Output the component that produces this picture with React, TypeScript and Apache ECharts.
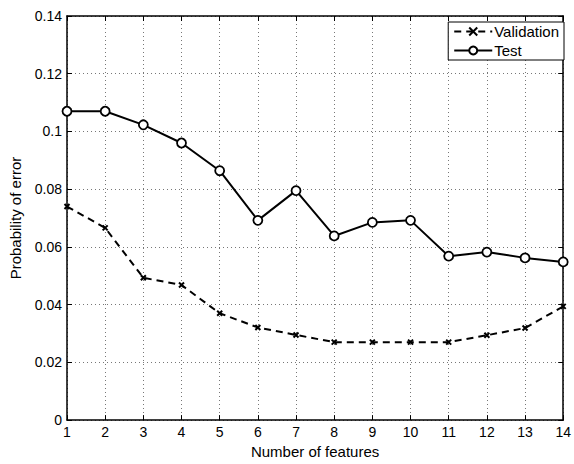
import React, { useEffect, useRef } from "react";
import * as echarts from "echarts";

const features = [1, 2, 3, 4, 5, 6, 7, 8, 9, 10, 11, 12, 13, 14];
const validation = [0.074, 0.0666, 0.0493, 0.0468, 0.037, 0.0321, 0.0295, 0.027, 0.027, 0.027, 0.027, 0.0294, 0.0319, 0.0394];
const test = [0.107, 0.107, 0.1023, 0.096, 0.0864, 0.0692, 0.0795, 0.0638, 0.0685, 0.0692, 0.0568, 0.0582, 0.0562, 0.0548];

const FONT = "Liberation Sans, Arial, Helvetica, sans-serif";

export default function App() {
  const ref = useRef<HTMLDivElement>(null);
  useEffect(() => {
    if (!ref.current) return;
    const chart = echarts.init(ref.current, undefined, { renderer: "svg" });
    const axisLine = { show: true, onZero: false, lineStyle: { color: "#000", width: 1.5 } };
    const tick = { show: true, inside: true, length: 5, lineStyle: { color: "#000", width: 1 } };
    chart.setOption({
      animation: false,
      backgroundColor: "#fff",
      grid: { left: 62, right: 6, top: 16, bottom: 40, containLabel: false },
      legend: {
        orient: "vertical",
        right: 10,
        top: 22,
        borderColor: "#000",
        borderWidth: 1,
        padding: [2, 5, 2, 5],
        itemWidth: 38,
        itemHeight: 10,
        itemGap: 4,
        backgroundColor: "#fff",
        textStyle: { fontFamily: FONT, fontSize: 15, color: "#000", padding: [0, 0, 0, -3] },
        data: ["Validation", "Test"],
      },
      xAxis: [
        {
          type: "value",
          min: 1,
          max: 14,
          interval: 1,
          name: "Number of features",
          nameLocation: "middle",
          nameGap: 18,
          nameTextStyle: { fontFamily: FONT, fontSize: 15, color: "#000" },
          axisLine,
          axisTick: tick,
          axisLabel: { fontFamily: FONT, fontSize: 14, color: "#000", margin: 5 },
          splitLine: { show: true, lineStyle: { type: [1, 3], color: "#777", width: 1 } },
        },
        {
          type: "value",
          position: "top",
          min: 1,
          max: 14,
          interval: 1,
          axisLine,
          axisTick: tick,
          axisLabel: { show: false },
          splitLine: { show: false },
        },
      ],
      yAxis: [
        {
          type: "value",
          min: 0,
          max: 0.14,
          interval: 0.02,
          name: "Probability of error",
          nameLocation: "middle",
          nameGap: 44,
          nameTextStyle: { fontFamily: FONT, fontSize: 15, color: "#000" },
          axisLine,
          axisTick: tick,
          axisLabel: {
            fontFamily: FONT,
            fontSize: 14,
            color: "#000",
            margin: 5,
            formatter: (v: number) => String(Number(v.toFixed(2))),
          },
          splitLine: { show: true, lineStyle: { type: [1, 3], color: "#777", width: 1 } },
        },
        {
          type: "value",
          position: "right",
          min: 0,
          max: 0.14,
          interval: 0.02,
          axisLine,
          axisTick: tick,
          axisLabel: { show: false },
          splitLine: { show: false },
        },
      ],
      series: [
        {
          name: "Validation",
          type: "line",
          data: features.map((f, i) => [f, validation[i]]),
          symbol: "path://M0,0L10,10M10,0L0,10",
          symbolSize: 5,
          lineStyle: { color: "#000", width: 2, type: [7, 5] },
          itemStyle: { color: "#000", borderColor: "#000", borderWidth: 2 },
        },
        {
          name: "Test",
          type: "line",
          data: features.map((f, i) => [f, test[i]]),
          symbol: "circle",
          symbolSize: 9,
          lineStyle: { color: "#000", width: 2 },
          itemStyle: { color: "#fff", borderColor: "#000", borderWidth: 1.8 },
        },
      ],
    });
    return () => chart.dispose();
  }, []);
  return <div ref={ref} style={{ width: 574, height: 464, position: "absolute", left: 0, top: 0 }} />;
}
